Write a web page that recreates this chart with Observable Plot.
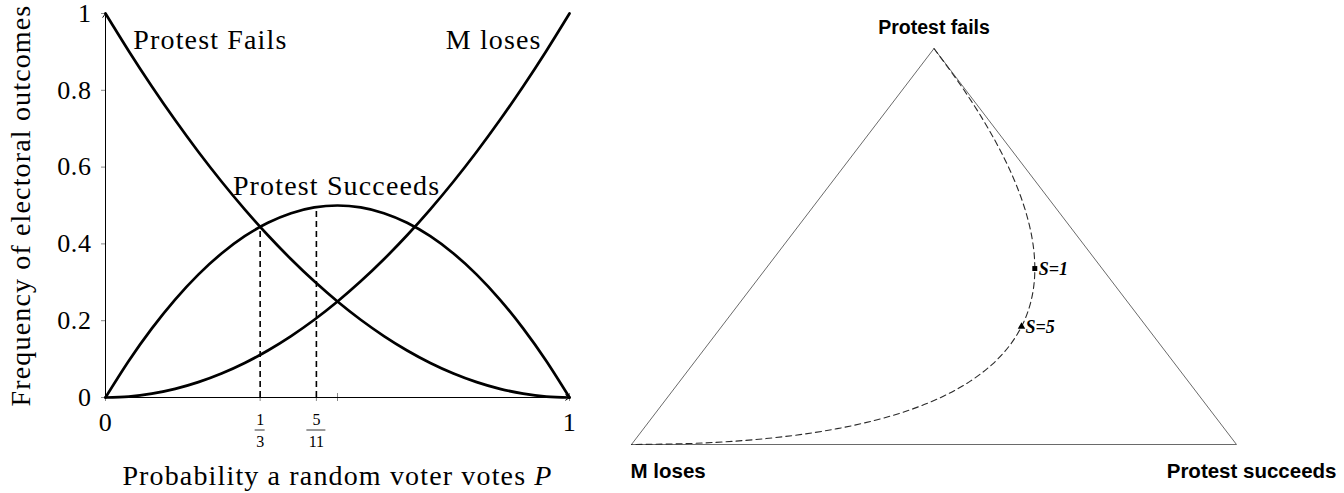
<!DOCTYPE html>
<html><head><meta charset="utf-8">
<script src="https://cdn.jsdelivr.net/npm/d3@7"></script>
<script src="https://cdn.jsdelivr.net/npm/@observablehq/plot@0.6"></script>
<style>
html,body{margin:0;padding:0;background:#fff;}
#wrap{display:flex;width:1344px;height:493px;overflow:hidden;}
#wrap svg{display:block;}
#wrap svg g[font-size="28"] text{letter-spacing:1.15px;}
#wrap svg g[font-size="26"] text{letter-spacing:0.6px;}
</style></head><body><div id="wrap"></div>
<script>
// ---- data ----
const P = [0,0.05,0.1,0.15,0.2,0.25,0.3,0.35,0.4,0.45,0.5,0.55,0.6,0.65,0.7,0.75,0.8,0.85,0.9,0.95,1];
const protestFails = [1,0.9025,0.81,0.7225,0.64,0.5625,0.49,0.4225,0.36,0.3025,0.25,0.2025,0.16,0.1225,0.09,0.0625,0.04,0.0225,0.01,0.0025,0];
const protestSucceeds = [0,0.095,0.18,0.255,0.32,0.375,0.42,0.455,0.48,0.495,0.5,0.495,0.48,0.455,0.42,0.375,0.32,0.255,0.18,0.095,0];
const mLoses = [0,0.0025,0.01,0.0225,0.04,0.0625,0.09,0.1225,0.16,0.2025,0.25,0.3025,0.36,0.4225,0.49,0.5625,0.64,0.7225,0.81,0.9025,1];

const markerP = [0.3333, 0.4545];
const markerFails = [0.4444, 0.2975];
const markerSucceeds = [0.4444, 0.4959];
const markerLoses = [0.1111, 0.2066];
const markerLabels = ["S=1", "S=5"];
const markerSymbols = ["square", "triangle"];
const fracNumerators = ["1", "5"];
const fracDenominators = ["3", "11"];

const yTicks = [0, 0.2, 0.4, 0.6, 0.8, 1];
const xTickLabels = [0, 1];
const xTickMarks = [0, 0.3333, 0.4545, 0.5, 1];
const xDomain = [0, 1];
const yDomain = [0, 1];

const curveLabelText = ["Protest Fails", "M loses", "Protest Succeeds"];
const curveLabelP = [0.06, 0.94, 0.498];
const curveLabelY = [0.93, 0.93, 0.552];
const curveLabelAnchor = ["start", "end", "middle"];

const cornerNames = ["M loses", "Protest succeeds", "Protest fails"];
const cornerFails = [0, 0, 1];
const cornerSucceeds = [0, 1, 0];

const xLabel = "Probability a random voter votes P";
const yLabel = "Frequency of electoral outcomes";

// ---- tables ----
const seriesNames = ["Protest Fails", "Protest Succeeds", "M loses"];
const seriesVals = [protestFails, protestSucceeds, mLoses];
const long = seriesNames.flatMap((s, k) => P.map((p, i) => ({series: s, p, v: seriesVals[k][i]})));
const markers = markerP.map((p, i) => ({p, fails: markerFails[i], succ: markerSucceeds[i], loses: markerLoses[i],
  label: markerLabels[i], symbol: markerSymbols[i], num: fracNumerators[i], den: fracDenominators[i]}));
const curveLabels = curveLabelText.map((t, i) => ({t, p: curveLabelP[i], y: curveLabelY[i], a: curveLabelAnchor[i]}));
const axesArrows = [
  {x1: xDomain[0], y1: yDomain[0], x2: xDomain[1], y2: yDomain[0]},
  {x1: xDomain[0], y1: yDomain[0], x2: xDomain[0], y2: yDomain[1]}
];

const serif = "'Liberation Serif', serif";

const labelMarks = ["start", "end", "middle"].map(a =>
  Plot.text(curveLabels.filter(d => d.a === a), {x: "p", y: "y", text: "t", textAnchor: a, lineAnchor: "middle", fontSize: 28}));

const left = Plot.plot({
  width: 620, height: 493,
  marginLeft: 105, marginRight: 51, marginTop: 13, marginBottom: 96,
  x: {domain: xDomain, axis: null}, y: {domain: yDomain, axis: null},
  style: {fontFamily: serif, background: "white", color: "black", overflow: "visible"},
  marks: [
    Plot.ruleY(yTicks, {y: d => d, x1: 0, x2: 0, insetLeft: -4, stroke: "#888", strokeWidth: 1}),
    Plot.ruleX(xTickMarks, {x: d => d, y1: 0, y2: 0, insetTop: -4, insetBottom: -4, stroke: "#888", strokeWidth: 1}),
    Plot.text(yTicks, {x: 0, y: d => d, text: d => String(d), textAnchor: "end", lineAnchor: "middle", dx: -14, fontSize: 26}),
    Plot.text(xTickLabels, {x: d => d, y: 0, text: d => String(d), lineAnchor: "middle", dy: 25, fontSize: 26}),
    Plot.text(markers, {x: "p", y: 0, text: "num", lineAnchor: "middle", dy: 22, fontSize: 16}),
    Plot.text(markers, {x: "p", y: 0, text: "den", lineAnchor: "middle", dy: 44, fontSize: 16}),
    Plot.dot(markers, {x: "p", y: 0, r: 0, render(index, scales, values) {
      const g = d3.create("svg:g");
      for (const i of index) {
        const w = markers[i].den.length * 4.5 + 0.5;
        g.append("line").attr("x1", values.x[i] - w).attr("x2", values.x[i] + w)
          .attr("y1", values.y[i] + 33).attr("y2", values.y[i] + 33)
          .attr("stroke", "black").attr("stroke-width", 0.8);
      }
      return g.node();
    }}),
    Plot.ruleX(markers, {x: "p", y1: 0, y2: "succ", stroke: "black", strokeWidth: 1.6, strokeDasharray: "6,4"}),
    Plot.line(long, {x: "p", y: "v", z: "series", stroke: "black", strokeWidth: 2.7, curve: "natural"}),
    Plot.arrow(axesArrows, {x1: "x1", y1: "y1", x2: "x2", y2: "y2", stroke: "black", strokeWidth: 1, headLength: 7, headAngle: 70}),
    ...labelMarks,
    Plot.text([yLabel], {frameAnchor: "left", text: d => d, rotate: -90, dx: -84, textAnchor: "middle", lineAnchor: "middle", fontSize: 28}),
    Plot.text([xLabel], {frameAnchor: "bottom", text: d => d, dy: 79, textAnchor: "middle", lineAnchor: "middle", fontSize: 28})
  ]
});

// italic P in the x label
left.querySelectorAll("text").forEach(t => {
  if (t.textContent === xLabel) {
    const sp = t.querySelector("tspan") || t;
    sp.textContent = "Probability a random voter votes ";
    const it = document.createElementNS("http://www.w3.org/2000/svg", "tspan");
    it.setAttribute("font-style", "italic");
    it.textContent = "P";
    sp.appendChild(it);
  }
});

const tern = P.map((p, i) => ({x: protestSucceeds[i] + protestFails[i] / 2, y: protestFails[i]}));
const corners = cornerNames.map((n, i) => ({n, x: cornerSucceeds[i] + cornerFails[i] / 2, y: cornerFails[i]}));
const triangle = [...corners, corners[0]];
const ternMarkers = markers.map(m => ({...m, x: m.succ + m.fails / 2, y: m.fails}));

const sans = "'Liberation Sans', Arial, sans-serif";
const right = Plot.plot({
  width: 724, height: 493,
  marginLeft: 11, marginRight: 108, marginTop: 48, marginBottom: 49,
  x: {domain: [0, 1], axis: null}, y: {domain: [0, 1], axis: null},
  style: {fontFamily: sans, background: "white", color: "black", overflow: "visible"},
  marks: [
    Plot.line(triangle, {x: "x", y: "y", stroke: "#6a6a6a", strokeWidth: 1}),
    Plot.line(tern, {x: "x", y: "y", stroke: "#2a2a2a", strokeWidth: 1.1, strokeDasharray: "6,4", curve: "natural"}),
    Plot.dot(ternMarkers, {x: "x", y: "y", symbol: "symbol", r: 2.8, fill: "black", stroke: null}),
    Plot.text(ternMarkers, {x: "x", y: "y", text: "label", textAnchor: "start", lineAnchor: "middle", dx: 4, dy: 1,
      fontFamily: serif, fontWeight: "bold", fontStyle: "italic", fontSize: 18}),
    Plot.text([corners[2]], {x: "x", y: "y", text: "n", lineAnchor: "middle", dy: -21, fontWeight: "bold", fontSize: 19.5}),
    Plot.text([corners[0]], {x: "x", y: "y", text: "n", textAnchor: "start", lineAnchor: "middle", dx: -1, dy: 27, fontWeight: "bold", fontSize: 20.5}),
    Plot.text([corners[1]], {x: "x", y: "y", text: "n", textAnchor: "end", lineAnchor: "middle", dx: 100, dy: 27, fontWeight: "bold", fontSize: 20.5})
  ]
});

const wrap = document.getElementById("wrap");
wrap.appendChild(left);
wrap.appendChild(right);
</script>
</body></html>
